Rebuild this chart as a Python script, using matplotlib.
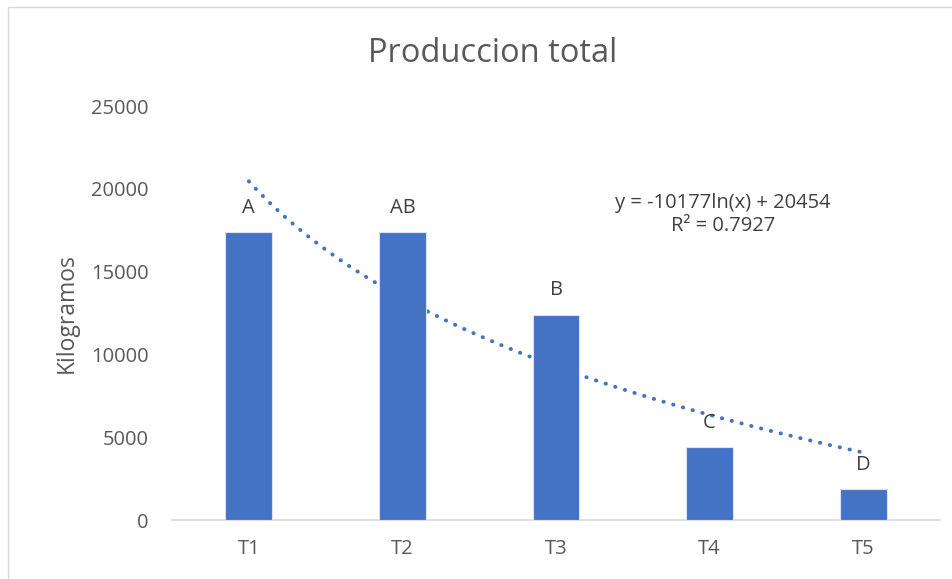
import numpy as np
import matplotlib
matplotlib.use("Agg")
import matplotlib.pyplot as plt
from matplotlib.patches import Rectangle

categories = ["T1", "T2", "T3", "T4", "T5"]
values = [17400, 17400, 12400, 4380, 1870]
letters = ["A", "AB", "B", "C", "D"]
trend_a = -10177
trend_b = 20454
eq_text = "y = -10177ln(x) + 20454\nR² = 0.7927"
yticks = [0, 5000, 10000, 15000, 20000, 25000]

plt.rcParams['font.family'] = ['Open Sans', 'DejaVu Sans']
W, H = 953, 579
fig = plt.figure(figsize=(W / 100, H / 100), dpi=100)
fig.patches.append(Rectangle((8 / W, -0.01), 1.02, 1 - 7 / H + 0.01, transform=fig.transFigure,
                             fill=False, edgecolor="#d9d9d9", linewidth=1.0))

ax = fig.add_axes([172 / W, (H - 520) / H, 768 / W, (520 - 106) / H])
x = np.arange(len(categories))
bars = ax.bar(x, values, width=0.305, color="#4472C4", edgecolor="#dae3f3", linewidth=0.8, zorder=3)

xt = np.linspace(1, len(categories), 200)
ax.plot(xt - 1, trend_a * np.log(xt) + trend_b, color="#4472C4", linewidth=2.8,
        linestyle=(0, (0.1, 2.5)), dash_capstyle="round", zorder=2)

for xi, v, lab in zip(x, values, letters):
    ax.annotate(lab, (xi, v), xytext=(0, 17.5), textcoords="offset points", ha="center",
                va="center", fontsize=14.5, color="#404040", zorder=4)

ax.text(3.087, 18420, eq_text, ha="center", va="center", fontsize=14.5, color="#404040",
        linespacing=1.2)

ax.set_xlim(-0.5, len(categories) - 0.5)
ax.set_ylim(0, 25000)
ax.set_yticks(yticks)
ax.set_yticklabels([str(t) for t in yticks])
ax.set_xticks(x)
ax.set_xticklabels(categories)
ax.tick_params(axis="both", length=0, labelsize=14.5, labelcolor="#595959")
ax.tick_params(axis="y", pad=17)
ax.tick_params(axis="x", pad=14)
for s in ["top", "right", "left"]:
    ax.spines[s].set_visible(False)
ax.spines["bottom"].set_color("#d9d9d9")
ax.spines["bottom"].set_linewidth(1.2)
ax.set_ylabel("Kilogramos", fontsize=16.5, color="#595959", labelpad=9)
fig.text(493 / W, 1 - 53 / H, "Produccion total", ha="center", va="center",
         fontsize=23.5, color="#595959")

fig.savefig("out.png", dpi=100)
